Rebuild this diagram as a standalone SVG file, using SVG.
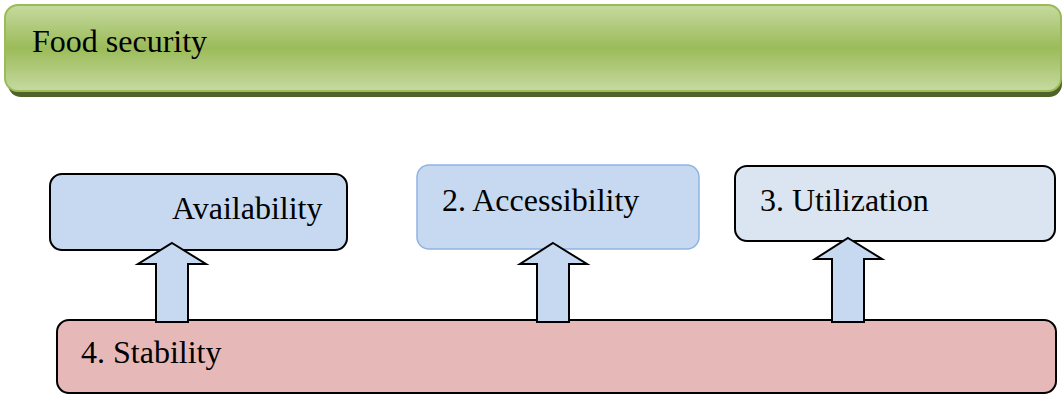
<svg xmlns="http://www.w3.org/2000/svg" width="1063" height="394" viewBox="0 0 1063 394">
  <defs>
    <linearGradient id="bannerFill" x1="0" y1="0" x2="0" y2="1">
      <stop offset="0" stop-color="#c6daa0"/>
      <stop offset="0.5" stop-color="#9bbb59"/>
      <stop offset="1" stop-color="#c6daa0"/>
    </linearGradient>
  </defs>
  <style>
    text { font-family: "Liberation Serif", "Times New Roman", serif; font-size: 32px; fill: #000; }
    .box { stroke: #000; stroke-width: 2; }
    .arrow { fill: #c6d9f1; stroke: #000; stroke-width: 2; stroke-linejoin: miter; }
  </style>

  <!-- title banner -->
  <g id="food-security">
    <rect x="8" y="11" width="1054" height="86" rx="13" fill="#4f6228"/>
    <rect x="5" y="5" width="1056" height="86" rx="13" fill="url(#bannerFill)" stroke="#9bbb59" stroke-width="2"/>
    <text x="32" y="52">Food security</text>
  </g>

  <g id="availability">
    <rect class="box" x="50" y="174" width="297" height="76" rx="12" fill="#c6d9f1"/>
    <text x="172" y="219">Availability</text>
  </g>

  <g id="accessibility">
    <rect x="417" y="165" width="282" height="84" rx="12" fill="#c6d9f1" stroke="#8eb4e3" stroke-width="1.5"/>
    <text x="442" y="211">2. Accessibility</text>
  </g>

  <g id="utilization">
    <rect class="box" x="735" y="166" width="320" height="75" rx="12" fill="#dbe5f1"/>
    <text x="760" y="211">3. Utilization</text>
  </g>

  <g id="stability">
    <rect class="box" x="57" y="320" width="999" height="73" rx="12" fill="#e6b9b8"/>
    <text x="81" y="363">4. Stability</text>
  </g>

  <!-- block arrows from stability up to each pillar -->
  <g id="connectors">
    <polygon class="arrow" points="172,243 206,264 188,264 188,322 156,322 156,264 138,264"/>
    <polygon class="arrow" points="553,243 587,264 569,264 569,322 537,322 537,264 520,264"/>
    <polygon class="arrow" points="848,238 882,259 864,259 864,322 832,322 832,259 815,259"/>
  </g>
</svg>
